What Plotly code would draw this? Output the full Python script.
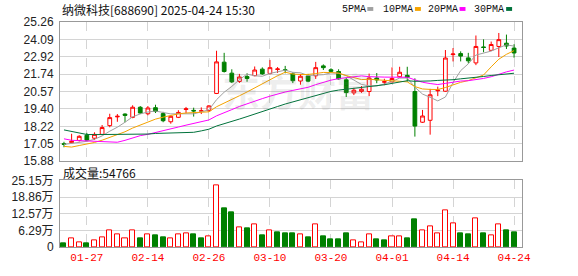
import plotly.graph_objects as go
import pandas as pd

dates = ["2025-01-22","2025-01-23","2025-01-24","2025-01-27",
         "2025-02-05","2025-02-06","2025-02-07","2025-02-10","2025-02-11","2025-02-12","2025-02-13","2025-02-14",
         "2025-02-17","2025-02-18","2025-02-19","2025-02-20","2025-02-21","2025-02-24","2025-02-25","2025-02-26",
         "2025-02-27","2025-02-28",
         "2025-03-03","2025-03-04","2025-03-05","2025-03-06","2025-03-07","2025-03-10","2025-03-11","2025-03-12",
         "2025-03-13","2025-03-14","2025-03-17","2025-03-18","2025-03-19","2025-03-20","2025-03-21","2025-03-24",
         "2025-03-25","2025-03-26","2025-03-27","2025-03-28","2025-03-31",
         "2025-04-01","2025-04-02","2025-04-03","2025-04-07","2025-04-08","2025-04-09","2025-04-10","2025-04-11",
         "2025-04-14","2025-04-15","2025-04-16","2025-04-17","2025-04-18","2025-04-21","2025-04-22","2025-04-23",
         "2025-04-24"]

open_ = [17.05,17.12,17.27,17.62,17.42,17.68,18.27,18.86,19.05,18.83,19.51,19.07,19.48,19.08,18.53,18.83,19.36,19.30,19.25,19.28,
         20.44,22.55,21.81,21.25,21.58,21.64,22.08,21.79,22.06,22.04,21.76,21.28,21.62,21.63,22.30,22.04,21.92,21.36,20.48,20.58,
         20.57,21.48,21.20,21.22,21.57,21.66,20.57,18.50,18.63,20.62,20.59,23.06,23.13,22.84,22.50,23.58,23.35,23.61,23.83,23.50]
high = [17.18,17.72,17.62,17.78,17.82,18.31,19.07,19.05,19.10,19.64,19.59,19.59,19.68,19.20,18.97,19.31,19.53,19.48,19.50,19.65,
        23.32,23.18,22.07,21.76,21.80,22.26,22.20,22.70,22.22,22.30,21.86,21.76,21.76,22.57,22.40,22.14,22.07,21.50,20.82,20.94,
        21.78,21.82,21.43,22.20,22.24,22.24,21.46,19.33,20.75,20.90,23.37,23.50,23.28,23.18,24.35,24.09,23.94,24.52,24.41,23.76]
low = [16.81,17.08,17.20,17.20,17.30,17.62,18.16,18.53,18.50,18.77,19.05,18.97,19.12,18.50,18.40,18.78,19.10,18.88,19.05,19.20,
       20.40,21.85,21.14,21.15,21.23,21.60,21.70,21.72,21.82,21.80,21.14,21.03,21.20,21.42,22.02,21.88,21.38,20.20,20.33,20.48,
       20.26,21.13,21.00,21.20,21.52,21.24,17.53,18.45,17.66,20.26,20.55,22.60,22.60,22.47,22.35,23.22,23.30,22.90,23.44,22.85]
close = [17.00,17.22,17.55,17.29,17.68,18.14,18.81,18.90,18.96,19.51,19.12,19.46,19.22,18.60,18.90,19.16,19.40,19.26,19.27,19.60,
         22.57,21.92,21.22,21.55,21.45,22.02,21.76,22.18,22.09,22.00,21.30,21.60,21.27,22.18,22.18,21.93,21.42,20.50,20.66,20.72,
         21.48,21.35,21.23,21.45,21.87,21.52,18.24,18.92,20.35,20.66,22.83,23.10,22.96,22.64,23.61,23.54,23.74,24.07,23.64,23.17]

# closes before the visible window (estimated from where the MA lines begin)
prior_closes = [20.4,20.6,20.3,17.9,18.1,18.6,18.8,18.9,19.2,19.0,19.2,18.0,17.9,18.2,18.6,19.1,19.2,
                16.4,16.2,16.1,17.7,16.5,16.4,16.5,16.6,16.9,17.1,17.0,17.0]

# volume in 万 shares
volume = [1.2,3.2,1.7,1.5,2.4,3.5,6.4,4.7,3.2,6.4,3.3,4.7,4.4,3.6,3.2,4.7,5.1,4.7,3.3,4.0,
          23.2,14.6,13.1,7.3,6.9,8.6,4.4,6.4,5.5,5.1,5.2,4.7,3.6,8.6,4.0,2.9,2.9,5.1,2.4,1.7,
          4.7,2.9,2.55,4.0,4.0,3.3,10.6,6.1,7.9,5.1,13.7,9.1,5.1,4.7,10.8,5.1,4.4,8.6,6.2,5.4766]
vol_up = [0,1,1,0,1,1,1,1,1,1,0,1,0,0,1,1,1,0,0,1,
          1,0,0,1,0,1,0,1,0,0,0,1,0,1,0,0,0,0,1,1,
          1,0,0,1,1,0,0,1,1,1,1,1,0,0,1,0,1,1,0,0]

price_ticks = ["25.26","24.09","22.92","21.74","20.57","19.40","18.22","17.05","15.88"]
vol_ticks = ["25.15","18.86","12.57","6.29","0"]
date_ticks = ["2025-01-27","2025-02-14","2025-02-26","2025-03-10","2025-03-20","2025-04-01","2025-04-14","2025-04-24"]

ma_periods = [5, 10, 20, 30]
ma_names = ["5PMA", "10PMA", "20PMA", "30PMA"]
ma_colors = ["#a0a0a0", "#f5a300", "#ff00ff", "#00723b"]

RED = "#ff0000"
GREEN = "#008000"

W, H = 578, 276
L, R, T, B = 56, 56, 22, 21
PW, PH = W - L - R, H - T - B

def px2x(px):
    return (px - L) / PW

def py2y(py):
    return (H - B - py) / PH

full_close = pd.Series(prior_closes + close)
n = len(close)

fig = go.Figure()

fig.add_trace(go.Candlestick(
    x=dates, open=open_, high=high, low=low, close=close,
    increasing=dict(line=dict(color=RED, width=1), fillcolor="white"),
    decreasing=dict(line=dict(color=GREEN, width=1), fillcolor=GREEN),
    whiskerwidth=0, showlegend=False, hoverinfo="skip",
    xaxis="x", yaxis="y"))

for p, nm, col in zip(ma_periods, ma_names, ma_colors):
    ma = full_close.rolling(p).mean().iloc[-n:].tolist()
    fig.add_trace(go.Scatter(x=dates, y=ma, mode="lines", line=dict(color=col, width=1),
                             showlegend=False, hoverinfo="skip", xaxis="x", yaxis="y"))

fig.add_trace(go.Bar(
    x=dates, y=volume, width=0.66,
    marker=dict(color=["white" if u else GREEN for u in vol_up],
                line=dict(color=[RED if u else GREEN for u in vol_up], width=1)),
    showlegend=False, hoverinfo="skip", xaxis="x2", yaxis="y2"))

xr = [-0.52, n - 1 + 1.04]
frame = "#999999"
grid = "#d4d4d4"
common_x = dict(type="category", range=xr, showline=True, linecolor=frame, mirror=True,
                showgrid=True, gridcolor=grid, griddash="dash", gridwidth=1,
                tickmode="array", tickvals=date_ticks, zeroline=False, ticks="")

fig.update_layout(
    width=W, height=H, margin=dict(l=L, r=R, t=T, b=B),
    paper_bgcolor="white", plot_bgcolor="white",
    bargap=0, showlegend=False,
    xaxis=dict(**common_x, domain=[0, 1], anchor="y", showticklabels=False,
               rangeslider=dict(visible=False)),
    xaxis2=dict(**common_x, domain=[0, 1], anchor="y2", matches="x",
                ticktext=[d[5:] for d in date_ticks],
                tickfont=dict(family="Liberation Mono", size=11, color=RED)),
    yaxis=dict(domain=[py2y(166), 1], range=[float(price_ticks[-1]), float(price_ticks[0])],
               tickmode="array", tickvals=[float(t) for t in price_ticks], ticktext=price_ticks,
               showline=True, linecolor=frame, mirror=True, showgrid=True, gridcolor=grid,
               zeroline=False, ticks="", ticklabelstandoff=3,
               tickfont=dict(family="Liberation Sans", size=12, color="#222")),
    yaxis2=dict(domain=[0, py2y(186)], range=[0, float(vol_ticks[0])],
                tickmode="array", tickvals=[float(t) for t in vol_ticks],
                ticktext=[t + "万" if t != "0" else t for t in vol_ticks],
                showline=True, linecolor=frame, mirror=True, showgrid=True, gridcolor=grid,
                zeroline=False, ticks="", ticklabelstandoff=3,
                tickfont=dict(family="Liberation Sans, Noto Sans CJK SC", size=12, color="#222")),
)

ann = []
ann.append(dict(text="纳微科技[688690] 2025-04-24 15:30", x=px2x(56), y=py2y(9), xref="paper", yref="paper",
                xanchor="left", yanchor="middle", showarrow=False,
                font=dict(family="Noto Sans CJK SC", size=12, color="#111")))
leg_x = [338, 380, 425, 472]
shapes = []
for lx, nm, col in zip(leg_x, ma_names, ma_colors):
    ann.append(dict(text=nm, x=px2x(lx), y=py2y(9), xref="paper", yref="paper",
                    xanchor="left", yanchor="middle", showarrow=False,
                    font=dict(family="Liberation Mono", size=10, color="#111")))
    sx = lx + len(nm) * 6 + 4
    shapes.append(dict(type="rect", xref="paper", yref="paper", x0=px2x(sx), x1=px2x(sx + 6),
                       y0=py2y(10.5), y1=py2y(6.5), fillcolor=col, line=dict(width=0)))
ann.append(dict(text="成交量:" + str(int(round(volume[-1] * 10000))), x=px2x(57), y=py2y(177.5),
                xref="paper", yref="paper", xanchor="left", yanchor="middle", showarrow=False,
                font=dict(family="Noto Sans CJK SC", size=12, color="#111")))
ann.append(dict(text="<b>东方财富</b>", x=px2x(296), y=py2y(92), xref="paper", yref="paper",
                xanchor="center", yanchor="middle", showarrow=False,
                font=dict(family="Noto Sans CJK SC", size=38, color="rgba(120,120,120,0.13)")))
fig.update_layout(annotations=ann, shapes=shapes)

fig.write_html("out.html")
